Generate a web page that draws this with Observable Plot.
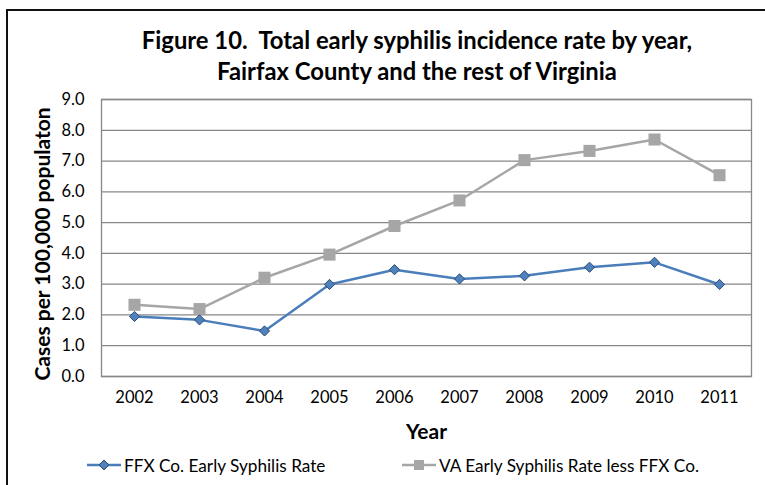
<!DOCTYPE html>
<html>
<head>
<meta charset="utf-8">
<script src="https://cdn.jsdelivr.net/npm/d3@7"></script>
<script src="https://cdn.jsdelivr.net/npm/@observablehq/plot@0.6"></script>
<style>
  html, body { margin: 0; padding: 0; background: #fff; }
  #wrap { position: relative; width: 765px; height: 485px; overflow: hidden; background: #fff; font-family: Lato, "Open Sans", sans-serif; }
  #border { position: absolute; left: 6px; top: 9px; width: 800px; height: 520px; border-left: 2px solid #111; border-top: 2px solid #111; }
  #title { position: absolute; left: 0; top: 25px; width: 834px; text-align: center; font-weight: bold; font-size: 23.8px; line-height: 31px; color: #000; }
  #chart { position: absolute; left: 0; top: 85px; }
  #legend { position: absolute; top: 453px; left: 0; width: 765px; height: 24px; font-size: 17.2px; color: #000; }
  .item { position: absolute; top: 0; display: flex; align-items: center; height: 24px; white-space: nowrap; }
  .item svg { margin-right: 3px; }
</style>
</head>
<body>
<div id="wrap">
  <div id="border"></div>
  <div id="title"></div>
  <div id="chart"></div>
  <div id="legend"></div>
</div>
<script>
const titleLines = ["Figure 10.  Total early syphilis incidence rate by year,", "Fairfax County and the rest of Virginia"];
const years = ["2002","2003","2004","2005","2006","2007","2008","2009","2010","2011"];
const ffxRate = [1.95, 1.84, 1.48, 2.99, 3.47, 3.17, 3.27, 3.55, 3.71, 2.99];
const vaRate = [2.33, 2.19, 3.21, 3.96, 4.89, 5.72, 7.03, 7.33, 7.70, 6.54];
const seriesNames = ["FFX Co. Early Syphilis Rate", "VA Early Syphilis Rate less FFX Co."];
const yTicks = [0,1,2,3,4,5,6,7,8,9];
const xLabel = "Year";
const yLabel = "Cases per 100,000 populaton";

const blue = "#4A7EBB", blueFill = "#4F81BD", blueStroke = "#2B4A70";
const gray = "#A6A6A6";

document.getElementById("title").innerHTML = titleLines.map(t => t.replace(/  /g, " &nbsp;")).join("<br>");

const ffx = years.map((y, i) => ({year: y, value: ffxRate[i]}));
const va = years.map((y, i) => ({year: y, value: vaRate[i]}));

const chart = Plot.plot({
  width: 765,
  height: 360,
  marginTop: 14,
  marginBottom: 69,
  marginLeft: 101,
  marginRight: 14,
  style: {fontFamily: "Lato, 'Open Sans', sans-serif", fontSize: "16.5px", color: "#000", background: "transparent", overflow: "visible"},
  x: {type: "point", domain: years, padding: 0.5},
  y: {domain: [0, 9]},
  marks: [
    Plot.gridY(yTicks, {stroke: "#878787", strokeOpacity: 1, strokeWidth: 1.3}),
    Plot.frame({stroke: "#878787", strokeWidth: 1.3}),
    Plot.axisY(yTicks, {tickSize: 0, tickPadding: 17, tickFormat: d3.format(".1f"), label: null, fontSize: 16.5}),
    Plot.axisX(years, {tickSize: 0, tickPadding: 15, label: null, fontSize: 16.5}),
    Plot.text([xLabel], {frameAnchor: "bottom", lineAnchor: "middle", textAnchor: "middle", dy: 56, fontWeight: "bold", fontSize: 21, fill: "#000"}),
    Plot.text([yLabel], {frameAnchor: "left", textAnchor: "middle", lineAnchor: "middle", rotate: -90, dx: -58, dy: 6, fontWeight: "bold", fontSize: 21, fill: "#000"}),
    Plot.line(va, {x: "year", y: "value", stroke: gray, strokeWidth: 2.5}),
    Plot.dot(va, {x: "year", y: "value", symbol: "square", r: 6.8, fill: gray, stroke: "none"}),
    Plot.line(ffx, {x: "year", y: "value", stroke: blue, strokeWidth: 2.5}),
    Plot.dot(ffx, {x: "year", y: "value", symbol: "diamond2", r: 4.6, fill: blueFill, stroke: blueStroke, strokeWidth: 1})
  ]
});
document.getElementById("chart").appendChild(chart);

// legend
const legend = document.getElementById("legend");
const legendItems = [
  {name: seriesNames[0], left: 87, color: blue, shape: "diamond"},
  {name: seriesNames[1], left: 402, color: gray, shape: "square"}
];
for (const it of legendItems) {
  const div = document.createElement("div");
  div.className = "item";
  div.style.left = it.left + "px";
  const s = d3.create("svg").attr("width", 34).attr("height", 24);
  s.append("line").attr("x1", 0).attr("x2", 34).attr("y1", 12).attr("y2", 12).attr("stroke", it.color).attr("stroke-width", 2.5);
  if (it.shape === "diamond") {
    s.append("path").attr("d", "M17,7 L22,12 L17,17 L12,12 Z").attr("fill", blueFill).attr("stroke", blueStroke).attr("stroke-width", 1);
  } else {
    s.append("rect").attr("x", 12).attr("y", 7).attr("width", 10).attr("height", 10).attr("fill", gray);
  }
  div.appendChild(s.node());
  const span = document.createElement("span");
  span.textContent = it.name;
  div.appendChild(span);
  legend.appendChild(div);
}
</script>
</body>
</html>
